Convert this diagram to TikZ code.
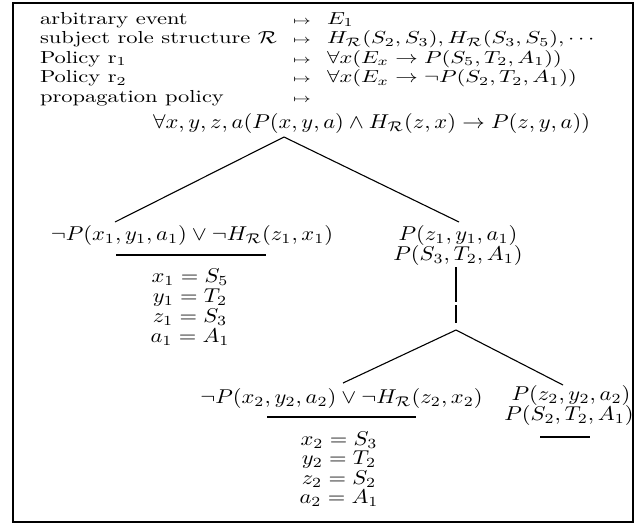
\documentclass[tikz,border=0pt]{standalone}
\usepackage{amsmath}
\usepackage{graphicx}
\newcommand{\sx}[1]{\scalebox{1.125}[1]{#1}}
\newcommand{\hx}[1]{\scalebox{1.125}[0.87]{#1}}
\begin{document}
\begin{tikzpicture}[x=0.5pt,y=-0.5pt,
  txt/.style={inner sep=0pt,outer sep=0pt},
  lft/.style={txt,anchor=base west},
  ctr/.style={txt,anchor=base},
  edge/.style={line width=0.55pt},
  bar/.style={line width=0.55pt},
  thickbar/.style={line width=1.3pt},
  frame/.style={line width=1.4pt}]
\useasboundingbox (0,0) rectangle (640,525);
\draw[frame] (13,3) rectangle (633,522);
% header
\node[lft] (h1) at (40,24) {\hx{arbitrary event}};
\node[lft] (h2) at (40,43.5) {\hx{subject role structure $\mathcal{R}$}};
\node[lft] (h3) at (40,63) {\hx{Policy r$_1$}};
\node[lft] (h4) at (40,82.5) {\hx{Policy r$_2$}};
\node[lft] (h5) at (40,102) {\hx{propagation policy}};
\node[lft] (m1) at (293,24) {\hx{$\scriptstyle\mapsto$}};
\node[lft] (m2) at (293,43.5) {\hx{$\scriptstyle\mapsto$}};
\node[lft] (m3) at (293,63) {\hx{$\scriptstyle\mapsto$}};
\node[lft] (m4) at (293,82.5) {\hx{$\scriptstyle\mapsto$}};
\node[lft] (m5) at (293,102) {\hx{$\scriptstyle\mapsto$}};
\node[lft] (r1) at (327,24) {\hx{$E_1$}};
\node[lft] (r2) at (327,43.5) {\hx{$H_{\mathcal{R}}(S_2,S_3), H_{\mathcal{R}}(S_3,S_5),\cdots$}};
\node[lft] (r3) at (327,63) {\hx{$\forall x(E_x\rightarrow P(S_5,T_2,A_1))$}};
\node[lft] (r4) at (327,82.5) {\hx{$\forall x(E_x\rightarrow \neg P(S_2,T_2,A_1))$}};
% tree root
\node[lft] (top) at (153,128) {\sx{$\forall x,y,z,a(P(x,y,a)\wedge H_{\mathcal{R}}(z,x)\rightarrow P(z,y,a))$}};
\coordinate (apexA) at (284,137);
\coordinate (endL1) at (115,222);
\coordinate (endR1) at (459,222);
\draw[edge] (endL1) -- (apexA) -- (endR1);
% left 1
\node[ctr] (L1) at (192,240) {\sx{$\neg P(x_1,y_1,a_1)\vee\neg H_{\mathcal{R}}(z_1,x_1)$}};
\coordinate (u1a) at (116,255);
\coordinate (u1b) at (266,255);
\draw[bar] (u1a) -- (u1b);
\node[ctr] (e11) at (190,282) {\sx{$x_1=S_5$}};
\node[ctr] (e12) at (190,302) {\sx{$y_1=T_2$}};
\node[ctr] (e13) at (190,322) {\sx{$z_1=S_3$}};
\node[ctr] (e14) at (190,342) {\sx{$a_1=A_1$}};
% right 1
\node[ctr] (R1a) at (458,240) {\sx{$P(z_1,y_1,a_1)$}};
\node[ctr] (R1b) at (458,260) {\sx{$P(S_3,T_2,A_1)$}};
\coordinate (v0) at (456,267);
\coordinate (v1) at (456,285);
\coordinate (v2) at (456,302);
\coordinate (v3) at (456,305);
\coordinate (v4) at (456,323);
\coordinate (apexB) at (456,330);
\draw[thickbar] (v0) -- (v1);
\draw[bar] (v1) -- (v2);
\draw[bar] (v3) -- (v4);
\coordinate (endL2) at (343,383);
\coordinate (endR2) at (563,385);
\draw[edge] (endL2) -- (apexB) -- (endR2);
% left 2
\node[ctr] (L2) at (341.5,403) {\sx{$\neg P(x_2,y_2,a_2)\vee\neg H_{\mathcal{R}}(z_2,x_2)$}};
\coordinate (u2a) at (267,417);
\coordinate (u2b) at (416,417);
\draw[bar] (u2a) -- (u2b);
\node[ctr] (e21) at (339,445) {\sx{$x_2=S_3$}};
\node[ctr] (e22) at (339,464.5) {\sx{$y_2=T_2$}};
\node[ctr] (e23) at (339,484) {\sx{$z_2=S_2$}};
\node[ctr] (e24) at (339,503.5) {\sx{$a_2=A_1$}};
% right 2
\node[ctr] (R2a) at (571,400) {\sx{$P(z_2,y_2,a_2)$}};
\node[ctr] (R2b) at (569,420) {\sx{$P(S_2,T_2,A_1)$}};
\coordinate (u3a) at (540,437);
\coordinate (u3b) at (590,437);
\draw[bar] (u3a) -- (u3b);
\end{tikzpicture}
\end{document}
